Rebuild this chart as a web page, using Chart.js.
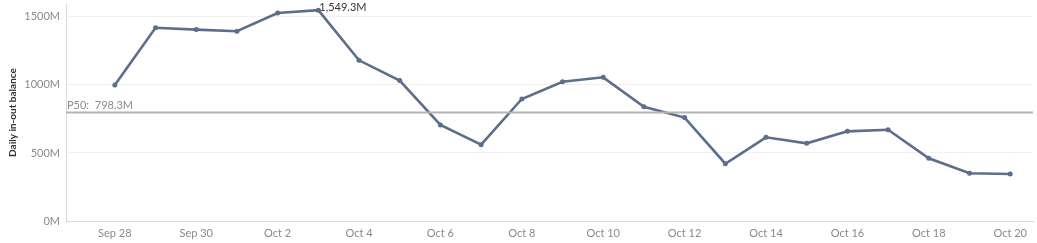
<!DOCTYPE html>
<html>
<head>
<meta charset="utf-8">
<script src="https://cdn.jsdelivr.net/npm/chart.js@4/dist/chart.umd.min.js"></script>
<style>
  html, body { margin: 0; padding: 0; background: #fff; }
  #wrap { width: 1037px; height: 243px; }
</style>
</head>
<body>
<div id="wrap"><canvas id="balChart" width="1037" height="243"></canvas></div>
<script>
/* ── Daily in-out balance ─────────────────────────────────────────── */
const days = ['Sep 28','Sep 29','Sep 30','Oct 1','Oct 2','Oct 3','Oct 4','Oct 5',
              'Oct 6','Oct 7','Oct 8','Oct 9','Oct 10','Oct 11','Oct 12','Oct 13',
              'Oct 14','Oct 15','Oct 16','Oct 17','Oct 18','Oct 19','Oct 20'];

// balance in millions
const balance = [1000, 1420, 1407, 1395, 1529, 1549.3, 1181, 1032,
                 706, 561, 897, 1024, 1056, 840, 760, 421,
                 615, 571, 659, 671, 461, 351, 346];

const xTickLabels = ['Sep 28','Sep 30','Oct 2','Oct 4','Oct 6','Oct 8',
                     'Oct 10','Oct 12','Oct 14','Oct 16','Oct 18','Oct 20'];
const yTicks = [0, 500, 1000, 1500];

const p50 = 798.3;

const lineColor = '#5b6e8b';
const fontFam = 'Lato, "Open Sans", sans-serif';

// ── Reference line + labels ──────────────────────────────────────────
const refPlugin = {
  id: 'refLine',
  afterDatasetsDraw(chart) {
    const ctx = chart.ctx;
    const area = chart.chartArea;
    const y = chart.scales.y.getPixelForValue(p50);

    ctx.save();
    ctx.strokeStyle = '#b4b4b4';
    ctx.lineWidth = 2;
    ctx.beginPath();
    ctx.moveTo(area.left, y);
    ctx.lineTo(area.right, y);
    ctx.stroke();

    ctx.font = '11px ' + fontFam;
    ctx.fillStyle = '#8c8c8c';
    ctx.textBaseline = 'bottom';
    ctx.textAlign = 'left';
    ctx.fillText('P50:  ' + p50.toFixed(1) + 'M', area.left + 1, y - 1);

    // max label
    var maxI = 0;
    for (var i = 1; i < balance.length; i++) if (balance[i] > balance[maxI]) maxI = i;
    var pt = chart.getDatasetMeta(0).data[maxI];
    ctx.fillStyle = '#333';
    ctx.textBaseline = 'middle';
    ctx.fillText(balance[maxI].toLocaleString('en-US', {minimumFractionDigits: 1}) + 'M',
                 pt.x + 1, pt.y - 3);
    ctx.restore();
  }
};

document.addEventListener('DOMContentLoaded', function() {
  const ctx = document.getElementById('balChart').getContext('2d');
  new Chart(ctx, {
    type: 'line',
    data: {
      datasets: [{
        data: balance.map(function(v, i) { return { x: i, y: v }; }),
        borderColor: lineColor,
        backgroundColor: lineColor,
        borderWidth: 2.6,
        pointRadius: 2.5,
        pointBorderWidth: 0,
        pointBackgroundColor: lineColor,
        tension: 0
      }]
    },
    options: {
      responsive: false,
      animation: false,
      layout: { padding: 0 },
      plugins: { legend: { display: false }, tooltip: { enabled: false } },
      scales: {
        x: {
          type: 'linear',
          min: -1.2,
          max: 22.56,
          afterBuildTicks: function(s) {
            s.ticks = xTickLabels.map(function(l) { return { value: days.indexOf(l) }; });
          },
          afterFit: function(s) { s.height = 22; },
          ticks: {
            autoSkip: false,
            maxRotation: 0,
            padding: 6,
            color: '#8a8a8a',
            font: { family: fontFam, size: 11 },
            callback: function(v) { return days[v]; }
          },
          grid: { display: false, drawTicks: false },
          border: { color: '#dcdcdc', width: 1 }
        },
        y: {
          min: 0,
          max: 1595,
          afterBuildTicks: function(s) {
            s.ticks = yTicks.map(function(v) { return { value: v }; });
          },
          afterFit: function(s) { s.width = 66; },
          ticks: {
            padding: 0,
            color: '#8a8a8a',
            font: { family: fontFam, size: 11, lineHeight: 0.1 },
            callback: function(v) { return v + 'M'; }
          },
          grid: { color: '#f1f1f1', drawTicks: true, tickLength: 6, tickColor: 'rgba(0,0,0,0)' },
          border: { color: '#dcdcdc', width: 1 },
          title: {
            display: true,
            text: 'Daily in-out balance',
            color: '#333',
            padding: { top: 7, bottom: 4 },
            font: { family: fontFam, size: 10, weight: 'bold' }
          }
        }
      }
    },
    plugins: [refPlugin]
  });
});
</script>
</body>
</html>
